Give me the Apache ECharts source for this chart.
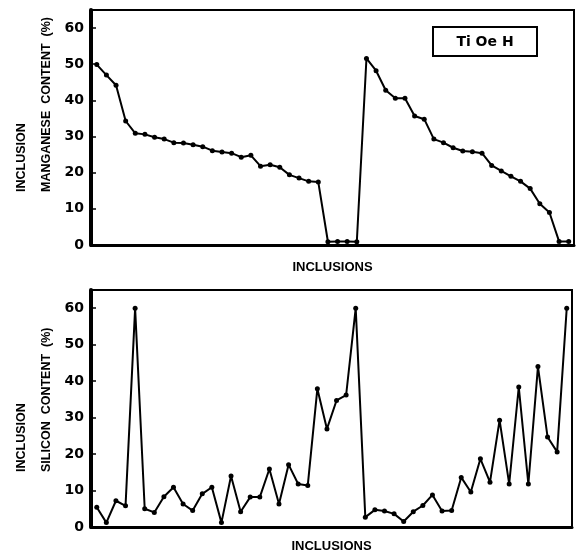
<!DOCTYPE html>
<html>
<head>
<meta charset="utf-8">
<script src="https://cdn.jsdelivr.net/npm/echarts@6/dist/echarts.min.js"></script>
<style>html,body{margin:0;padding:0;background:#fff}#c{width:577px;height:557px}</style>
</head>
<body>
<div id="c"></div>
<script>
// Inclusion number (x), shared by both panels
const inclusions = [1,2,3,4,5,6,7,8,9,10,11,12,13,14,15,16,17,18,19,20,21,22,23,24,25,
  26,27,28,29,30,31,32,33,34,35,36,37,38,39,40,41,42,43,44,45,46,47,48,49,50];
// Inclusion manganese content (%)
const manganese = [49.9,47.0,44.2,34.3,30.9,30.6,29.8,29.3,28.3,28.2,27.7,27.2,26.1,25.7,25.4,
  24.3,24.8,21.8,22.2,21.5,19.4,18.5,17.6,17.4,0.9,1.0,1.0,0.9,51.6,48.2,42.8,40.6,40.6,35.7,
  34.8,29.3,28.3,26.9,26.0,25.8,25.4,22.0,20.5,19.0,17.6,15.6,11.4,9.0,1.0,1.0];
// Inclusion silicon content (%)
const silicon = [5.4,1.2,7.2,5.8,60.0,5.0,4.0,8.3,10.9,6.3,4.5,9.1,10.9,1.2,14.0,4.2,8.2,8.2,
  15.9,6.3,17.1,11.8,11.4,37.9,26.9,34.7,36.2,60.0,2.7,4.7,4.4,3.6,1.5,4.2,5.9,8.8,4.4,4.5,
  13.6,9.6,18.7,12.3,29.3,11.8,38.4,11.8,44.0,24.7,20.6,60.0];
const yTicks = [0,10,20,30,40,50,60];
const xName = 'INCLUSIONS';
const topYName = ['INCLUSION', 'MANGANESE  CONTENT  (%)'];
const botYName = ['INCLUSION', 'SILICON  CONTENT  (%)'];
const legendText = 'Ti Oe H';

const chart = echarts.init(document.getElementById('c'), null, {renderer:'canvas'});
const tickFont = {fontFamily:'DejaVu Sans', fontWeight:'bold', fontSize:14, color:'#000'};

function xAxis(gi, gap){
  return {type:'value', gridIndex:gi, min:0.4, max:50.55,
    axisLine:{show:true, onZero:false, lineStyle:{color:'#000', width:3}},
    axisTick:{show:false}, axisLabel:{show:false}, splitLine:{show:false},
    name:xName, nameLocation:'middle', nameGap:gap,
    nameTextStyle:{fontFamily:'Liberation Sans', fontWeight:'bold', fontSize:13, color:'#000'}};
}
function yAxis(gi){
  return {type:'value', gridIndex:gi, min:0, max:65, interval:10,
    axisLine:{show:true, onZero:false, lineStyle:{color:'#000', width:4}},
    axisTick:{show:true, inside:true, length:5, customValues:yTicks, lineStyle:{color:'#000', width:1.5}},
    axisLabel:{show:true, margin:7, customValues:yTicks, ...tickFont},
    splitLine:{show:false}};
}
function series(gi, vals){
  return {type:'line', xAxisIndex:gi, yAxisIndex:gi,
    data: inclusions.map((x,i)=>[x, vals[i]]),
    symbol:'circle', symbolSize:5, showSymbol:true,
    lineStyle:{color:'#000', width:2}, itemStyle:{color:'#000'}};
}
function vText(x, y, txt){
  return {type:'text', x:x, y:y, rotation:Math.PI/2,
    style:{text:txt, fontFamily:'Liberation Sans', fontWeight:'bold', fontSize:12.5, fill:'#000',
      align:'left', verticalAlign:'middle'}};
}

chart.setOption({
  animation:false,
  backgroundColor:'#fff',
  grid:[
    {left:91, top:10, width:483, height:235, show:true, borderColor:'#000', borderWidth:2, containLabel:false},
    {left:91, top:290, width:481, height:237, show:true, borderColor:'#000', borderWidth:2, containLabel:false}
  ],
  xAxis:[xAxis(0,16), xAxis(1,13)],
  yAxis:[yAxis(0), yAxis(1)],
  series:[series(0, manganese), series(1, silicon)],
  graphic:[
    vText(22, 192, topYName[0]),
    vText(47, 192, topYName[1]),
    vText(22, 472, botYName[0]),
    vText(47, 472, botYName[1]),
    {type:'rect', shape:{x:433, y:27, width:104, height:29}, style:{fill:'#fff', stroke:'#000', lineWidth:2}, z:10},
    {type:'text', x:485, y:42, z:11, style:{text:legendText, fontFamily:'DejaVu Sans', fontWeight:'bold', fontSize:14, fill:'#000', align:'center', verticalAlign:'middle'}}
  ]
});
</script>
</body>
</html>
